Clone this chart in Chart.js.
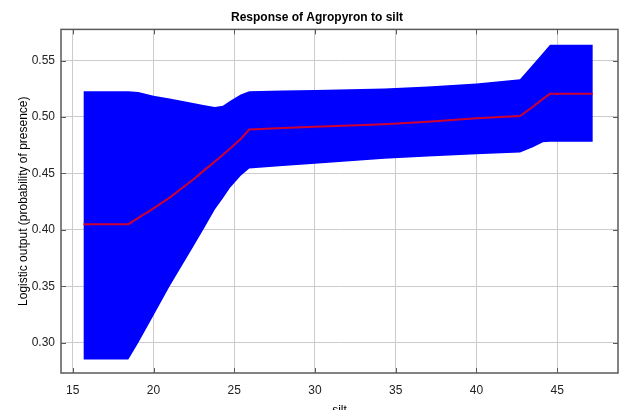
<!DOCTYPE html>
<html>
<head>
<meta charset="utf-8">
<script src="https://cdn.jsdelivr.net/npm/chart.js@4/dist/chart.umd.min.js"></script>
<style>
  html, body { margin: 0; padding: 0; background: #fff; }
  #wrap { width: 621px; height: 410px; }
</style>
</head>
<body>
<div id="wrap"><canvas id="chart" width="621" height="410"></canvas></div>
<script>
// values
const silt = [15.66, 18.44, 19.06, 20, 21, 22.46, 23.08, 23.8, 24.3, 24.73, 25.4, 25.93, 28, 30, 34.3, 37, 40, 42.7, 43.5, 44.12, 44.56, 47.21]
const meanResp = [0.405, 0.405, 0.4105, 0.419, 0.4285, 0.4445, 0.452, 0.4605, 0.4665, 0.4718, 0.4805, 0.4888, 0.4902, 0.4913, 0.4936, 0.4958, 0.4989, 0.5009, 0.5090, 0.5160, 0.5206, 0.5206]
const upperResp = [0.5227, 0.5227, 0.5222, 0.5189, 0.5163, 0.5123, 0.5106, 0.5088, 0.5100, 0.5141, 0.5200, 0.5227, 0.5235, 0.5240, 0.5253, 0.5270, 0.5297, 0.5335, 0.5465, 0.5567, 0.5641, 0.5641]
const lowerResp = [0.285, 0.285, 0.300, 0.324, 0.350, 0.385, 0.400, 0.418, 0.428, 0.437, 0.448, 0.4544, 0.4565, 0.4585, 0.4630, 0.4650, 0.4669, 0.4686, 0.4731, 0.4775, 0.4780, 0.4780]

const toPts = (ys) => silt.map((x, i) => ({ x: x, y: ys[i] }))

const FONT = 'Liberation Sans, Arial, sans-serif'

// box round the plot with the small inward ticks
const framePlugin = {
    id: 'frame',
    afterDatasetsDraw(chart) {
        const { ctx, chartArea: a, scales } = chart
        ctx.save()
        ctx.strokeStyle = '#5a5a5a'
        ctx.lineWidth = 1
        scales.x.ticks.forEach(t => {
            const px = Math.round(scales.x.getPixelForValue(t.value)) + 0.5
            ctx.beginPath()
            ctx.moveTo(px, a.bottom); ctx.lineTo(px, a.bottom - 5)
            ctx.moveTo(px, a.top); ctx.lineTo(px, a.top + 5)
            ctx.stroke()
        })
        scales.y.ticks.forEach(t => {
            const py = Math.round(scales.y.getPixelForValue(t.value)) + 0.5
            ctx.beginPath()
            ctx.moveTo(a.left, py); ctx.lineTo(a.left + 5, py)
            ctx.moveTo(a.right, py); ctx.lineTo(a.right - 5, py)
            ctx.stroke()
        })
        ctx.lineWidth = 1.5
        ctx.strokeRect(a.left, a.top, a.right - a.left, a.bottom - a.top)
        ctx.restore()
    }
}

new Chart(document.getElementById('chart'), {
    type: 'line',
    data: {
        datasets: [
            {
                data: toPts(upperResp),
                borderWidth: 0,
                borderColor: 'rgba(0,0,255,0)',
                backgroundColor: '#0000ff',
                fill: 1,
                order: 2
            },
            {
                data: toPts(lowerResp),
                borderWidth: 0,
                borderColor: 'rgba(0,0,255,0)',
                fill: false,
                order: 2
            },
            {
                data: toPts(meanResp),
                borderColor: '#cf0030',
                borderWidth: 2,
                fill: false,
                order: 0
            }
        ]
    },
    options: {
        responsive: false,
        animation: false,
        events: [],
        layout: { padding: { left: 16, right: 3, top: 0, bottom: -8 } },
        elements: { point: { radius: 0 }, line: { tension: 0 } },
        plugins: {
            legend: { display: false },
            tooltip: { enabled: false },
            title: {
                display: true,
                text: 'Response of Agropyron to silt',
                color: '#000',
                font: { family: FONT, size: 12, weight: 'bold' },
                padding: { top: 10, bottom: 5 }
            }
        },
        scales: {
            x: {
                type: 'linear',
                min: 14.27,
                max: 48.77,
                ticks: {
                    stepSize: 5,
                    includeBounds: false,
                    color: '#222',
                    padding: 10,
                    font: { family: FONT, size: 12 }
                },
                grid: { color: '#cccccc', drawTicks: false },
                border: { display: false },
                title: {
                    display: true,
                    text: 'silt',
                    color: '#000',
                    font: { family: FONT, size: 12 },
                    padding: { top: 2, bottom: 0 }
                },
                afterFit: (s) => { s.height = 45 }
            },
            y: {
                min: 0.2731,
                max: 0.5776,
                ticks: {
                    stepSize: 0.05,
                    includeBounds: false,
                    color: '#222',
                    padding: 6,
                    font: { family: FONT, size: 12 },
                    callback: (v) => v.toFixed(2)
                },
                grid: { color: '#cccccc', drawTicks: false },
                border: { display: false },
                title: {
                    display: true,
                    text: 'Logistic output (probability of presence)',
                    color: '#000',
                    font: { family: FONT, size: 12 },
                    padding: { top: 0, bottom: 4 }
                },
                afterFit: (s) => { s.width = 45 }
            }
        }
    },
    plugins: [framePlugin]
})
</script>
</body>
</html>
